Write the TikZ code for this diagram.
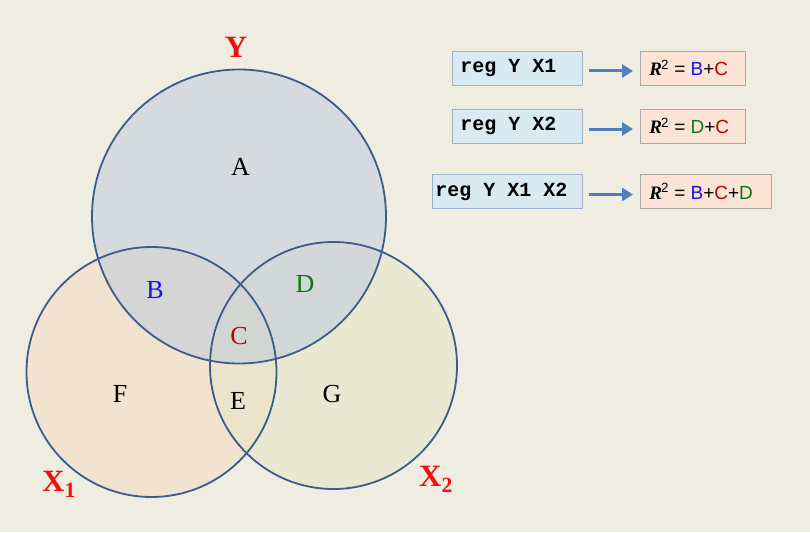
\documentclass[tikz,border=0pt]{standalone}
\usepackage{fontspec}
\setmainfont{Liberation Serif}
\setsansfont{Liberation Sans}
\newfontfamily\codefont{Liberation Mono}
\usetikzlibrary{arrows.meta}
\definecolor{bg}{HTML}{EFECE2}
\definecolor{yfill}{HTML}{BCC9DB}
\definecolor{xafill}{HTML}{F6DAC2}
\definecolor{xbfill}{HTML}{E4E6C8}
\definecolor{ring}{HTML}{3D5C87}
\definecolor{lblred}{HTML}{EE1111}
\definecolor{cblue}{HTML}{1414E6}
\definecolor{cred}{HTML}{C00000}
\definecolor{cgreen}{HTML}{117711}
\definecolor{lboxfill}{HTML}{DAEAF2}
\definecolor{lboxdraw}{HTML}{9DB3C6}
\definecolor{rboxfill}{HTML}{FBE4D5}
\definecolor{rboxdraw}{HTML}{A8A8A8}
\definecolor{arrowc}{HTML}{4F7FBC}
\tikzset{
  setlabel/.style={font=\fontsize{26}{30}\selectfont},
  bigred/.style={font=\fontsize{31}{36}\selectfont\bfseries, text=lblred},
  ringline/.style={draw=ring, line width=1.8pt},
  lbox/.style={draw=lboxdraw, fill=lboxfill, line width=0.8pt, minimum height=34pt,
    inner ysep=2pt, align=left, anchor=west, font=\fontsize{20}{24}\selectfont\codefont\bfseries},
  rbox/.style={draw=rboxdraw, fill=rboxfill, line width=0.8pt, minimum height=34pt,
    inner ysep=2pt, inner xsep=9pt, align=left, anchor=west, font=\fontsize{19}{22}\selectfont\sffamily},
  arr/.style={draw=arrowc, line width=3pt, -{Triangle[length=11pt,width=13pt]},
    shorten <=6pt, shorten >=7pt}
}
\newcommand{\fullsp}{\spaceskip=0pt\relax\xspaceskip=0pt\relax}
\newcommand{\rsq}{{\rmfamily\itshape\bfseries R}\kern-1pt\textsuperscript{\sffamily 2}}
\begin{document}
\begin{tikzpicture}[x=1pt,y=-1pt]
\fill[bg] (0,0) rectangle (810,532);
\useasboundingbox (0,0) rectangle (810,532);
% fills
\fill[xafill, fill opacity=0.55] (151.5,372) circle[radius=125];
\fill[xbfill, fill opacity=0.55] (333.5,365.5) circle[radius=123.5];
\fill[yfill, fill opacity=0.5] (239,216.5) circle[radius=147];
% outlines
\draw[ringline] (151.5,372) circle[radius=125];
\draw[ringline] (333.5,365.5) circle[radius=123.5];
\draw[ringline] (239,216.5) circle[radius=147];
% region labels
\node[setlabel] (A) at (240.5,167) {A};
\node[setlabel, text=cblue] (B) at (155,290) {B};
\node[setlabel, text=cgreen] (D) at (305,284) {D};
\node[setlabel, text=cred] (C) at (239,336) {C};
\node[setlabel] (F) at (120,394) {F};
\node[setlabel] (E) at (238,401) {E};
\node[setlabel] (G) at (332,394) {G};
% variable labels
\node[bigred] (Y) at (236,47) {Y};
\node[bigred] (X1) at (59,484) {X\textsubscript{1}};
\node[bigred] (X2) at (436,479) {X\textsubscript{2}};
% regression boxes
\node[lbox, inner xsep=8pt, text width=114pt] (l1) at (452,68) {\fullsp reg Y X1};
\node[lbox, inner xsep=8pt, text width=114pt] (l2) at (452,126) {\fullsp reg Y X2};
\node[lbox, inner xsep=3pt, text width=144pt] (l3) at (432,191.5) {\fullsp reg Y X1 X2};
\node[rbox, text width=87pt] (r1) at (640,68) {\fullsp\rsq{} = {\color{cblue}B}+{\color{cred}C}};
\node[rbox, text width=87pt] (r2) at (640,126) {\fullsp\rsq{} = {\color{cgreen}D}+{\color{cred}C}};
\node[rbox, text width=113pt] (r3) at (640,191.5) {\fullsp\rsq{} = {\color{cblue}B}+{\color{cred}C}+{\color{cgreen}D}};
\draw[arr] ([yshift=-3pt]l1.east) -- ([yshift=-3pt]r1.west);
\draw[arr] ([yshift=-3pt]l2.east) -- ([yshift=-3pt]r2.west);
\draw[arr] ([yshift=-3pt]l3.east) -- ([yshift=-3pt]r3.west);
\end{tikzpicture}
\end{document}
